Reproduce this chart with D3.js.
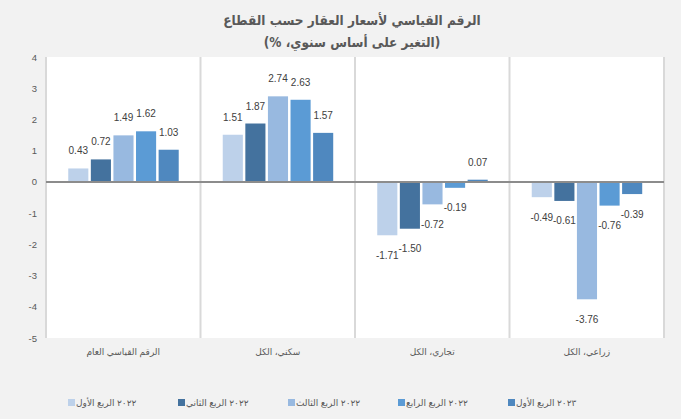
<!DOCTYPE html>
<html>
<head>
<meta charset="utf-8">
<script src="https://cdn.jsdelivr.net/npm/d3@7"></script>
<style>
  body { margin: 0; background: #ffffff; }
  svg { display: block; }
</style>
</head>
<body>
<div id="chart"></div>
<script>
// categories (x axis), series names (legend) and values per series
const categories = ["الرقم القياسي العام", "سكني، الكل", "تجاري، الكل", "زراعي، الكل"];
const seriesNames = ["٢٠٢٢ الربع الأول", "٢٠٢٢ الربع الثاني", "٢٠٢٢ الربع الثالث", "٢٠٢٢ الربع الرابع", "٢٠٢٣ الربع الأول"];
const q1_2022 = [0.43, 1.51, -1.71, -0.49];
const q2_2022 = [0.72, 1.87, -1.50, -0.61];
const q3_2022 = [1.49, 2.74, -0.72, -3.76];
const q4_2022 = [1.62, 2.63, -0.19, -0.76];
const q1_2023 = [1.03, 1.57, 0.07, -0.39];
const yTicks = [4, 3, 2, 1, 0, -1, -2, -3, -4, -5];
const colors = ["#bdd1ea", "#44729e", "#98b9e0", "#5b9bd5", "#4f88bf"];

const seriesValues = [q1_2022, q2_2022, q3_2022, q4_2022, q1_2023];

function draw_chart(wrapper)
{
  const W = 681, H = 419;
  const plot = {left: 46, right: 664, top: 57, bottom: 338};
  const svg = d3.select(wrapper).append("svg")
    .attr("width", W).attr("height", H);

  svg.append("rect").attr("width", W).attr("height", H).attr("fill", "#f2f2f2");
  svg.append("rect")
    .attr("x", plot.left).attr("y", plot.top)
    .attr("width", plot.right - plot.left).attr("height", plot.bottom - plot.top)
    .attr("fill", "#ffffff");

  const font = "'Liberation Sans', 'DejaVu Sans', Arial, sans-serif";

  // title, laid out right-to-left
  const title = svg.append("text")
    .attr("text-anchor", "middle")
    .attr("direction", "rtl")
    .attr("fill", "#595959")
    .attr("font-weight", "bold")
    .attr("font-family", "'DejaVu Sans Condensed', 'DejaVu Sans', sans-serif")
    .style("font-size", "13.5px");
  title.append("tspan").attr("x", 352).attr("y", 25).text("الرقم القياسي لأسعار العقار حسب القطاع");
  title.append("tspan").attr("x", 352).attr("y", 47).text("(التغير على أساس سنوي، %)");

  const x0 = d3.scaleBand()
    .domain(categories)
    .range([plot.left, plot.right]);
  const x1 = d3.scaleBand()
    .domain(d3.range(seriesNames.length))
    .range([x0.bandwidth() * 0.144, x0.bandwidth() * 0.859])
    .paddingInner(0.11);
  const yScale = d3.scaleLinear()
    .domain([-5, 4])
    .range([plot.bottom, plot.top]);

  // vertical gridlines at category boundaries
  const bounds = categories.map(c => x0(c)).concat([plot.right]);
  svg.append("g").selectAll("line")
    .data(bounds)
    .join("line")
      .attr("x1", d => d).attr("x2", d => d)
      .attr("y1", plot.top).attr("y2", plot.bottom)
      .attr("stroke", "#d9d9d9")
      .attr("stroke-width", 2);

  // y axis labels
  const yAxis = d3.axisLeft(yScale).tickValues(yTicks).tickSize(0).tickPadding(0).tickFormat(d => String(d));
  svg.append("g")
    .attr("transform", `translate(37,0)`)
    .call(yAxis)
    .call(g => g.select(".domain").remove())
    .call(g => g.selectAll(".tick text")
        .attr("fill", "#595959")
        .attr("font-family", font)
        .style("font-size", "9.5px"));

  // bars
  const groups = svg.append("g").selectAll("g")
    .data(categories)
    .join("g")
      .attr("transform", c => `translate(${x0(c)},0)`);

  groups.selectAll("rect")
    .data((c, ci) => seriesValues.map((vals, si) => ({s: si, v: vals[ci]})))
    .join("rect")
      .attr("x", d => x1(d.s))
      .attr("width", x1.bandwidth())
      .attr("y", d => yScale(Math.max(0, d.v)))
      .attr("height", d => Math.abs(yScale(d.v) - yScale(0)))
      .attr("fill", d => colors[d.s]);

  groups.selectAll("text")
    .data((c, ci) => seriesValues.map((vals, si) => ({s: si, v: vals[ci]})))
    .join("text")
      .attr("x", d => x1(d.s) + x1.bandwidth() / 2)
      .attr("y", d => d.v >= 0 ? yScale(d.v) - 14 : yScale(d.v) + 23.5)
      .attr("text-anchor", "middle")
      .attr("fill", "#404040")
      .attr("font-family", font)
      .style("font-size", "10px")
      .text(d => d.v.toFixed(2));

  // zero line
  svg.append("line")
    .attr("x1", plot.left).attr("x2", plot.right)
    .attr("y1", yScale(0)).attr("y2", yScale(0))
    .attr("stroke", "#8c8c8c")
    .attr("stroke-width", 2);

  // category labels
  svg.append("g").selectAll("text")
    .data(categories)
    .join("text")
      .attr("x", c => x0(c) + x0.bandwidth() / 2)
      .attr("y", 355)
      .attr("text-anchor", "middle")
      .attr("fill", "#595959")
      .attr("font-family", font)
      .style("font-size", "9px")
      .text(c => c);

  // legend
  const legend = svg.append("g").selectAll("g")
    .data(seriesNames)
    .join("g")
      .attr("transform", (d, i) => `translate(${68 + i * 110},403)`);
  legend.append("rect")
    .attr("x", 0).attr("y", -4)
    .attr("width", 7).attr("height", 7)
    .attr("fill", (d, i) => colors[i]);
  legend.append("text")
    .attr("x", 8).attr("y", 3)
    .attr("fill", "#595959")
    .attr("font-family", font)
    .style("font-size", "9px")
    .text(d => d);
}

draw_chart("#chart");
</script>
</body>
</html>
